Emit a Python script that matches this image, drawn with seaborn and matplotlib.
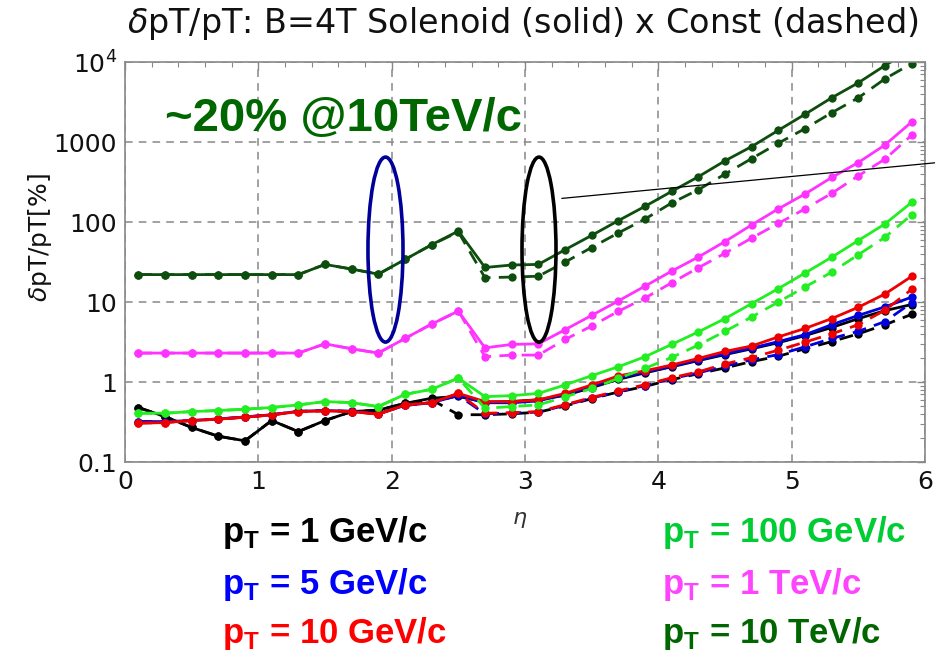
import matplotlib
matplotlib.use("Agg")
import matplotlib.pyplot as plt
import seaborn as sns
from matplotlib.patches import Ellipse
from matplotlib.ticker import FixedLocator, NullFormatter, LogLocator

# ---------------- data ----------------
eta = [0.1, 0.3, 0.5, 0.7, 0.9, 1.1, 1.3, 1.5, 1.7, 1.9, 2.1, 2.3, 2.5, 2.7, 2.9,
       3.1, 3.3, 3.5, 3.7, 3.9, 4.1, 4.3, 4.5, 4.7, 4.9, 5.1, 5.3, 5.5, 5.7, 5.9]

pt1_solid = [0.48, 0.37, 0.27, 0.21, 0.184, 0.33, 0.24, 0.33, 0.427, 0.445, 0.54, 0.627, 0.66,
             0.56, 0.57, 0.60, 0.68, 0.85, 1.08, 1.30, 1.55, 1.85, 2.2, 2.6, 3.1, 3.8, 4.8, 6.2, 7.8, 9.3]
pt1_dash = [0.48, 0.37, 0.27, 0.21, 0.184, 0.33, 0.24, 0.33, 0.427, 0.445, 0.54, 0.60, 0.39,
            0.39, 0.40, 0.42, 0.50, 0.62, 0.75, 0.88, 1.07, 1.27, 1.5, 1.8, 2.1, 2.6, 3.2, 4.0, 5.2, 7.0]

pt5_solid = [0.32, 0.32, 0.33, 0.345, 0.365, 0.39, 0.43, 0.44, 0.43, 0.40, 0.51, 0.55, 0.68,
             0.55, 0.55, 0.58, 0.70, 0.88, 1.12, 1.33, 1.57, 1.88, 2.25, 2.65, 3.2, 3.9, 5.2, 6.8, 8.7, 11.5]
pt5_dash = [0.32, 0.32, 0.33, 0.345, 0.365, 0.39, 0.43, 0.44, 0.43, 0.40, 0.51, 0.55, 0.68,
            0.40, 0.41, 0.42, 0.51, 0.63, 0.76, 0.90, 1.10, 1.30, 1.58, 1.90, 2.2, 2.75, 3.5, 4.3, 5.7, 9.8]

pt10_solid = [0.306, 0.311, 0.33, 0.343, 0.363, 0.388, 0.427, 0.435, 0.427, 0.396, 0.517, 0.552, 0.72,
              0.569, 0.569, 0.597, 0.72, 0.918, 1.19, 1.38, 1.63, 1.97, 2.41, 2.82, 3.66, 4.67, 6.2, 8.6, 12.6, 20.9]
pt10_dash = [0.306, 0.311, 0.33, 0.343, 0.363, 0.388, 0.427, 0.435, 0.427, 0.396, 0.517, 0.552, 0.72,
             0.407, 0.413, 0.427, 0.52, 0.64, 0.775, 0.925, 1.13, 1.34, 1.68, 2.02, 2.5, 3.15, 4.0, 5.2, 7.9, 14.4]

pt100_solid = [0.407, 0.407, 0.427, 0.44, 0.457, 0.48, 0.517, 0.569, 0.552, 0.493, 0.70, 0.81, 1.12,
               0.656, 0.675, 0.72, 0.918, 1.2, 1.55, 2.07, 2.95, 4.23, 6.2, 9.55, 14.7, 23, 36.3, 58.7, 94.7, 176]
pt100_dash = [0.407, 0.407, 0.427, 0.44, 0.457, 0.48, 0.517, 0.569, 0.552, 0.493, 0.70, 0.81, 1.12,
              0.47, 0.493, 0.517, 0.65, 0.83, 1.11, 1.48, 2.03, 2.89, 4.3, 6.5, 10.0, 15.4, 23.6, 39, 64.5, 123]

pt1T_solid = [2.3, 2.3, 2.3, 2.3, 2.3, 2.3, 2.3, 3.0, 2.6, 2.3, 3.5, 5.3, 7.7,
              2.67, 2.95, 3.0, 4.5, 6.8, 10.3, 15.8, 24.3, 36.5, 57, 92, 146, 224, 360, 554, 920, 1780]
pt1T_dash = [2.3, 2.3, 2.3, 2.3, 2.3, 2.3, 2.3, 3.0, 2.6, 2.3, 3.5, 5.3, 7.7,
             2.07, 2.17, 2.17, 3.4, 5.0, 7.66, 11.2, 17.4, 26.8, 40.7, 63, 96, 146, 228, 378, 611, 1216]

pt10T_solid = [22, 22, 22, 22, 22, 22, 22, 29.5, 25.8, 22.3, 34, 52, 77,
               27, 29, 29.5, 45, 68, 104, 157, 241, 368, 582, 877, 1400, 2220, 3570, 5500, 9040, 14500]
pt10T_dash = [22, 22, 22, 22, 22, 22, 22, 29.5, 25.8, 22.3, 34, 52, 75,
              20.1, 20.5, 21, 31.5, 48, 73, 109, 173, 253, 397, 621, 966, 1470, 2320, 3570, 6170, 9570]

series_names = ["1 GeV/c", "5 GeV/c", "10 GeV/c", "100 GeV/c", "1 TeV/c", "10 TeV/c"]
series_solid = [pt1_solid, pt5_solid, pt10_solid, pt100_solid, pt1T_solid, pt10T_solid]
series_dash = [pt1_dash, pt5_dash, pt10_dash, pt100_dash, pt1T_dash, pt10T_dash]
line_colors = ["#000000", "#0000dd", "#ee0000", "#22ee22", "#ff33ff", "#0d4d0d"]
text_colors = ["#000000", "#0000ff", "#ff0000", "#00cc33", "#ff44ff", "#006600"]

yticks = [0.1, 1, 10, 100, 1000, 10000]
ytick_labels = ["0.1", "1", "10", "100", "1000", "$10^4$"]
xticks = [0, 1, 2, 3, 4, 5, 6]

# ---------------- figure ----------------
sns.set_style("white")
plt.rcParams["font.family"] = ["DejaVu Sans"]

W, H = 935, 654
fig = plt.figure(figsize=(W / 100, H / 100), dpi=100)
ax = fig.add_axes([125 / W, 1 - 462 / H, 800 / W, 400 / H])
ax.set_yscale("log")

for name, ys, yd, c in zip(series_names, series_solid, series_dash, line_colors):
    sns.lineplot(x=eta, y=yd, ax=ax, color=c, lw=2.0, linestyle=(0, (5, 3)),
                 marker="o", markersize=6, markeredgewidth=0)
    sns.lineplot(x=eta, y=ys, ax=ax, color=c, lw=2.0, linestyle="-",
                 marker="o", markersize=6, markeredgewidth=0)

ax.set_xlim(0, 6)
ax.set_ylim(0.1, 10000)
ax.set_xticks(xticks)
ax.set_xticklabels([str(t) for t in xticks])
ax.xaxis.set_minor_locator(FixedLocator([i * 0.2 for i in range(31)]))
ax.set_yticks(yticks)
ax.set_yticklabels(ytick_labels)
ax.yaxis.set_minor_locator(LogLocator(base=10, subs=range(2, 10), numticks=20))
ax.yaxis.set_minor_formatter(NullFormatter())

ax.tick_params(which="both", direction="in", top=True, right=True, color="#888888")
ax.tick_params(which="major", length=6, width=1, labelsize=18, labelcolor="#111111", pad=6)
ax.tick_params(which="minor", length=3.5, width=0.8)

ax.grid(True, which="major", linestyle=(0, (5, 4)), color="#888888", lw=1.1)
for sp in ax.spines.values():
    sp.set_color("#888888")
    sp.set_linewidth(1.2)

ax.set_xlabel("")
ax.set_ylabel("")

# ellipses and pointer line
ax.add_patch(Ellipse((0.3256, 0.531), 0.0438, 0.4625, transform=ax.transAxes,
                     fill=False, edgecolor="#000099", lw=2.6, zorder=5))
ax.add_patch(Ellipse((0.5175, 0.531), 0.0425, 0.4625, transform=ax.transAxes,
                     fill=False, edgecolor="black", lw=2.6, zorder=5))
ax.plot([0.546, 1.0125], [0.659, 0.748], transform=ax.transAxes, color="black",
        lw=0.9, clip_on=False, zorder=6)

# texts
fig.text(523 / W, 1 - 33 / H, "$\\delta$pT/pT: B=4T Solenoid (solid) x Const (dashed)",
         ha="center", va="baseline", fontsize=24, color="#111111")
fig.text(40 / W, 1 - 237 / H, "$\\delta$pT/pT[%]", rotation=90, ha="center", va="center",
         fontsize=18, color="#111111")
fig.text(520 / W, 1 - 520 / H, "$\\eta$", ha="center", va="center", fontsize=16, color="#333333")

fig.text(165 / W, 1 - 131 / H, "~20% @10TeV/c", ha="left", va="baseline",
         fontsize=34, fontweight="bold", family="Liberation Sans", color="#006600")

rows_y = [542, 594, 643]
for i, (name, c) in enumerate(zip(series_names, text_colors)):
    col = i // 3
    row = i % 3
    x = 222 if col == 0 else 662
    fig.text(x / W, 1 - rows_y[row] / H, "p$_\\mathregular{T}$ = " + name,
             ha="left", va="baseline", fontsize=25, fontweight="bold",
             family="Liberation Sans", color=c)

fig.savefig("out.png", dpi=100)
